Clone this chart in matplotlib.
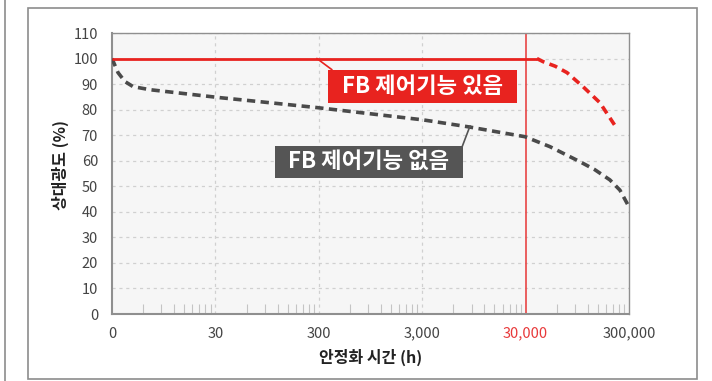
import matplotlib
matplotlib.use('Agg')
import matplotlib.pyplot as plt
from matplotlib.patches import Rectangle
from matplotlib.lines import Line2D
from matplotlib.ticker import FixedLocator

plt.rcParams['font.family'] = ['Noto Sans CJK KR', 'DejaVu Sans']

# 데이터
x_ticks = [3, 30, 300, 3000, 30000, 300000]
x_tick_labels = ['0', '30', '300', '3,000', '30,000', '300,000']
y_ticks = list(range(0, 111, 10))

# FB 제어기능 없음 (회색 점선)
t_off = [3, 3.43, 4.0, 4.8, 7.0, 33, 65, 288, 3050, 8300, 29600, 51600, 100800,
         140000, 196000, 245000, 293000]
lum_off = [100, 94.5, 91, 89, 87.8, 84.7, 83.5, 80.8, 76, 73.3, 69.4, 65.5, 59.6,
           56.5, 52.5, 48.5, 42.7]

# FB 제어기능 있음 (빨간 실선 + 점선)
t_on = [3, 38600]
lum_on = [100, 100]
t_on_tail = [38600, 44200, 58000, 75400, 107700, 157000, 220000]
lum_on_tail = [100, 98.8, 97.0, 94.5, 89, 82.7, 73.7]

t_limit = 30000

W, H = 712, 381
fig = plt.figure(figsize=(W / 100, H / 100), dpi=100)
fig.patch.set_facecolor('white')


def px(x0, y0, x1, y1):
    return [x0 / W, 1 - y1 / H, (x1 - x0) / W, (y1 - y0) / H]


# 바깥 테두리
fig.add_artist(Rectangle((28 / W, 1 - 379 / H), (697 - 28) / W, (379 - 8) / H,
                         transform=fig.transFigure, fill=False, ec='#8c8c8c', lw=1.2))
fig.add_artist(Line2D([5 / W, 5 / W], [0, 1], transform=fig.transFigure, color='#8c8c8c', lw=1.2))

ax = fig.add_axes(px(112, 33, 629, 314))
ax.set_facecolor('#f6f6f6')
ax.set_xscale('log')
ax.set_xlim(3, 300000)
ax.set_ylim(0, 110)

ax.set_xticks(x_ticks)
ax.set_xticklabels(x_tick_labels)
ax.xaxis.set_minor_locator(FixedLocator([3 * k * 10 ** n for n in range(5) for k in range(2, 10)]))
ax.xaxis.set_minor_formatter(plt.NullFormatter())
ax.set_yticks(y_ticks)
ax.tick_params(axis='both', which='major', length=0, labelsize=10.5, labelcolor='#444444')
ax.tick_params(axis='x', which='major', pad=9)
ax.tick_params(axis='y', which='major', pad=10)
ax.tick_params(axis='x', which='minor', direction='in', length=7, color='#c4c4c4', width=0.8)
ax.get_xticklabels()[4].set_color('#e8393a')

for s in ax.spines.values():
    s.set_color('#8f8f8f')
    s.set_linewidth(1.0)
ax.spines['left'].set_linewidth(1.5)
ax.spines['bottom'].set_linewidth(1.5)

ax.grid(axis='y', color='#d0d0d0', linestyle=(0, (2.5, 3)), lw=0.9)
for xv in x_ticks[1:4]:
    ax.axvline(xv, color='#d0d0d0', linestyle=(0, (2.5, 3)), lw=0.9, zorder=1)
ax.set_axisbelow(True)

ax.axvline(t_limit, color='#e84545', lw=1.2, zorder=2)

ax.plot(t_off, lum_off, color='#4a4a4a', lw=2.6, linestyle=(0, (2.3, 1.5)), zorder=3)
ax.plot(t_on, lum_on, color='#e8231f', lw=2.0, solid_capstyle='butt', zorder=4)
ax.plot(t_on_tail, lum_on_tail, color='#e8231f', lw=2.6, linestyle=(0, (2.3, 1.5)), zorder=4)

# 주석 박스
ax.add_line(Line2D([0.3965, 0.425], [0.909, 0.87], transform=ax.transAxes, color='#e8231f', lw=1.2, zorder=5))
ax.add_patch(Rectangle((0.4178, 0.751), 0.3656, 0.1174, transform=ax.transAxes,
                       fc='#e8231f', ec='none', zorder=6))
ax.text(0.4178 + 0.3656 / 2, 0.751 + 0.1174 / 2, 'FB 제어기능 있음', transform=ax.transAxes,
        ha='center', va='center', color='white', fontsize=16, fontweight='bold', zorder=7)

ax.add_line(Line2D([0.6925, 0.677], [0.669, 0.594], transform=ax.transAxes, color='#555555', lw=1.2, zorder=5))
ax.add_patch(Rectangle((0.3153, 0.484), 0.3636, 0.1139, transform=ax.transAxes,
                       fc='#555555', ec='none', zorder=6))
ax.text(0.3153 + 0.3636 / 2, 0.484 + 0.1139 / 2, 'FB 제어기능 없음', transform=ax.transAxes,
        ha='center', va='center', color='white', fontsize=16, fontweight='bold', zorder=7)

fig.text(370.5 / W, 1 - 357 / H, '안정화 시간 (h)', ha='center', va='center',
         fontsize=11.5, fontweight='bold', color='#222222')
fig.text(60 / W, 1 - 165 / H, '상대광도 (%)', ha='center', va='center', rotation=90,
         fontsize=11.5, fontweight='bold', color='#222222')

fig.savefig('out.png', dpi=100)
